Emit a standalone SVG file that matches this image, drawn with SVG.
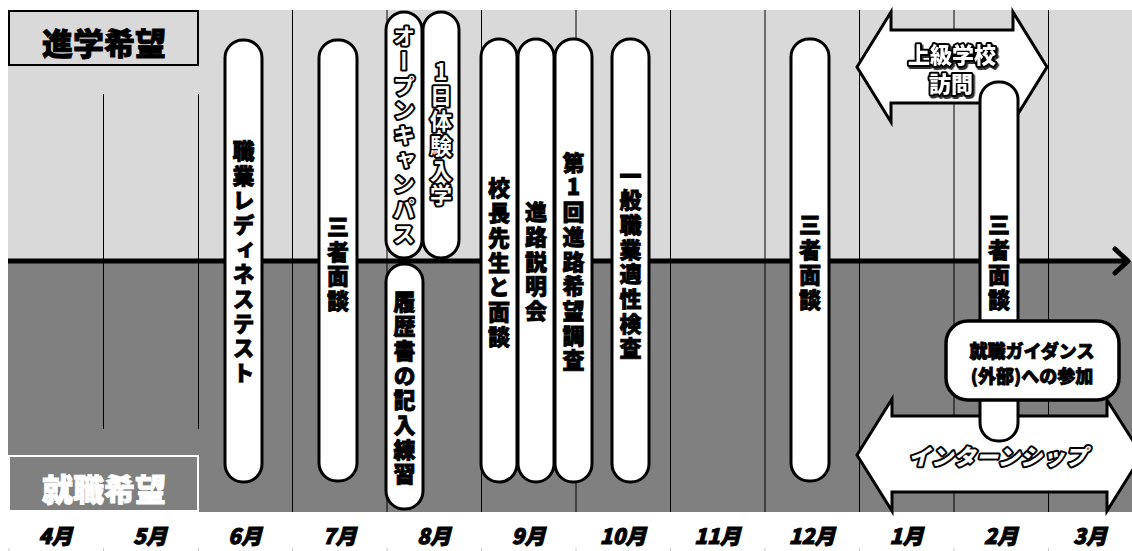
<svg xmlns="http://www.w3.org/2000/svg" width="1132" height="551" viewBox="0 0 1132 551">
<style>
.grid{stroke:#000;stroke-width:1}
.tick{stroke:#c8c8c8;stroke-width:1}
.pill{fill:#fff;stroke:#000;stroke-width:3}
.vt{font-family:"Noto Sans CJK JP","Noto Sans CJK SC",sans-serif;font-weight:900;font-size:22px;writing-mode:vertical-rl;text-orientation:upright;text-anchor:middle;letter-spacing:2.7px;fill:#000;stroke:#000;stroke-width:0.8px}
.pop{fill:#fff;stroke:#000;stroke-width:4px;paint-order:stroke;stroke-linejoin:round;font-weight:700}
.lbl{font-family:"Noto Sans CJK JP","Noto Sans CJK SC",sans-serif;font-weight:900;text-anchor:middle;dominant-baseline:central}
.blk{fill:#000;stroke:#000;stroke-width:0.8px}
.wht{fill:#fff;stroke:#fff;stroke-width:0.8px}
.mon{font-family:"Noto Sans CJK JP","Noto Sans CJK SC",sans-serif;font-weight:900;font-style:italic;font-size:21px;text-anchor:middle;dominant-baseline:central;fill:#000;stroke:#000;stroke-width:1px}
.arrow{fill:#fff;stroke:#000;stroke-width:3;stroke-linejoin:miter}
</style>
<defs>
<filter id="shadow" x="-10%" y="-20%" width="130%" height="150%">
<feDropShadow dx="1.5" dy="2" stdDeviation="0.6" flood-color="#333" flood-opacity="1"/>
</filter>
</defs>
<rect width="1132" height="551" fill="#fff"/>
<g id="background">
<rect x="8" y="10" width="1124" height="251" fill="#d9d9d9"/>
<rect x="8" y="261" width="1124" height="251" fill="#808080"/>
</g>
<g id="month-grid">
<line class="grid" x1="103.5" y1="94" x2="103.5" y2="429"/>
<line class="grid" x1="198.5" y1="94" x2="198.5" y2="429"/>
<line class="grid" x1="292.5" y1="10" x2="292.5" y2="512"/>
<line class="grid" x1="387" y1="10" x2="387" y2="512"/>
<line class="grid" x1="481.5" y1="10" x2="481.5" y2="512"/>
<line class="grid" x1="576" y1="10" x2="576" y2="512"/>
<line class="grid" x1="670.5" y1="10" x2="670.5" y2="512"/>
<line class="grid" x1="765" y1="10" x2="765" y2="512"/>
<line class="grid" x1="859.5" y1="10" x2="859.5" y2="512"/>
<line class="grid" x1="954" y1="10" x2="954" y2="512"/>
<line class="grid" x1="1048.5" y1="10" x2="1048.5" y2="512"/>
<g>
<line class="tick" x1="9" y1="548" x2="9" y2="551"/>
<line class="tick" x1="103.5" y1="548" x2="103.5" y2="551"/>
<line class="tick" x1="198.5" y1="548" x2="198.5" y2="551"/>
<line class="tick" x1="292.5" y1="548" x2="292.5" y2="551"/>
<line class="tick" x1="387" y1="548" x2="387" y2="551"/>
<line class="tick" x1="481.5" y1="548" x2="481.5" y2="551"/>
<line class="tick" x1="576" y1="548" x2="576" y2="551"/>
<line class="tick" x1="670.5" y1="548" x2="670.5" y2="551"/>
<line class="tick" x1="765" y1="548" x2="765" y2="551"/>
<line class="tick" x1="859.5" y1="548" x2="859.5" y2="551"/>
<line class="tick" x1="954" y1="548" x2="954" y2="551"/>
<line class="tick" x1="1048.5" y1="548" x2="1048.5" y2="551"/>
</g>
</g>
<g id="label-shingaku">
<rect x="9" y="11" width="189" height="54" fill="#d9d9d9" stroke="#000" stroke-width="2"/>
<text class="lbl blk" x="104" y="41" font-size="31">進学希望</text>
</g>
<g id="label-shushoku">
<rect x="9" y="456" width="189" height="55" fill="#808080" stroke="#fff" stroke-width="2"/>
<text class="lbl wht" x="104" y="487" font-size="31">就職希望</text>
</g>
<g id="connectors">
<line x1="8" y1="261" x2="1126" y2="261" stroke="#000" stroke-width="5"/>
<polyline points="1115,249 1128,261 1115,273" fill="none" stroke="#000" stroke-width="5" stroke-linecap="round" stroke-linejoin="round"/>
</g>
<g id="node-joukyu">
<polygon class="arrow" points="857,67 891,12 891,30 1013,30 1013,12 1047,67 1013,122 1013,103 891,103 891,122"/>
<text class="lbl pop" x="952" y="52.5" font-size="22" filter="url(#shadow)">上級学校</text>
<text class="lbl pop" x="951" y="82" font-size="22" filter="url(#shadow)">訪問</text>
</g>
<g id="node-intern">
<polygon class="arrow" points="857,455 892,399 892,416 1107,416 1107,400 1142,455 1107,511 1107,492 892,492 892,511"/>
<text class="lbl pop" x="998" y="455" font-size="22" font-style="italic" letter-spacing="0.5">インターンシップ</text>
</g>
<g id="node-readiness">
<rect class="pill" x="225" y="40" width="37" height="442" rx="18"/>
<text class="vt" x="243.5" y="263">職業レディネステスト</text>
</g>
<g id="node-sansha-7">
<rect class="pill" x="319" y="40" width="38" height="441" rx="18"/>
<text class="vt" x="338" y="265">三者面談</text>
</g>
<g id="node-opencampus">
<rect class="pill" x="386" y="12" width="36" height="246" rx="18"/>
<text class="vt pop" x="404" y="136">オープンキャンパス</text>
</g>
<g id="node-taiken">
<rect class="pill" x="423" y="12" width="36" height="246" rx="18"/>
<text class="vt pop" x="441" y="134.5">1日体験入学</text>
</g>
<g id="node-rirekisho">
<rect class="pill" x="386" y="264" width="37" height="245" rx="18"/>
<text class="vt" x="404.5" y="389">履歴書の記入練習</text>
</g>
<g id="node-kouchou">
<rect class="pill" x="481" y="39" width="36" height="443" rx="18"/>
<text class="vt" x="499" y="263.5">校長先生と面談</text>
</g>
<g id="node-setsumeikai">
<rect class="pill" x="518" y="39" width="36" height="443" rx="18"/>
<text class="vt" x="536" y="262.5">進路説明会</text>
</g>
<g id="node-chousa">
<rect class="pill" x="555" y="39" width="37" height="443" rx="18"/>
<text class="vt" x="573.5" y="262.5">第1回進路希望調査</text>
</g>
<g id="node-tekisei">
<rect class="pill" x="612" y="39" width="37" height="443" rx="18"/>
<text class="vt" x="630.5" y="263">一般職業適性検査</text>
</g>
<g id="node-sansha-12">
<rect class="pill" x="791" y="39" width="38" height="442" rx="18"/>
<text class="vt" x="810" y="263.5">三者面談</text>
</g>
<g id="node-sansha-2">
<rect class="pill" x="980" y="82" width="38" height="359" rx="18"/>
<text class="vt" x="999" y="263.5">三者面談</text>
</g>
<g id="node-guidance">
<rect x="946" y="321" width="173" height="79" rx="22" fill="#fff" stroke="#000" stroke-width="3.5"/>
<text class="lbl blk" x="1032" y="350" font-size="18">就職ガイダンス</text>
<text class="lbl blk" x="1032" y="375" font-size="18">(外部)への参加</text>
</g>
<g id="months">
<text class="mon" x="55.5" y="535">4月</text>
<text class="mon" x="150" y="535">5月</text>
<text class="mon" x="245" y="535">6月</text>
<text class="mon" x="339.5" y="535">7月</text>
<text class="mon" x="434" y="535">8月</text>
<text class="mon" x="528.5" y="535">9月</text>
<text class="mon" x="623" y="535">10月</text>
<text class="mon" x="717.5" y="535">11月</text>
<text class="mon" x="812" y="535">12月</text>
<text class="mon" x="906.5" y="535">1月</text>
<text class="mon" x="1001" y="535">2月</text>
<text class="mon" x="1090" y="535">3月</text>
</g>
</svg>
